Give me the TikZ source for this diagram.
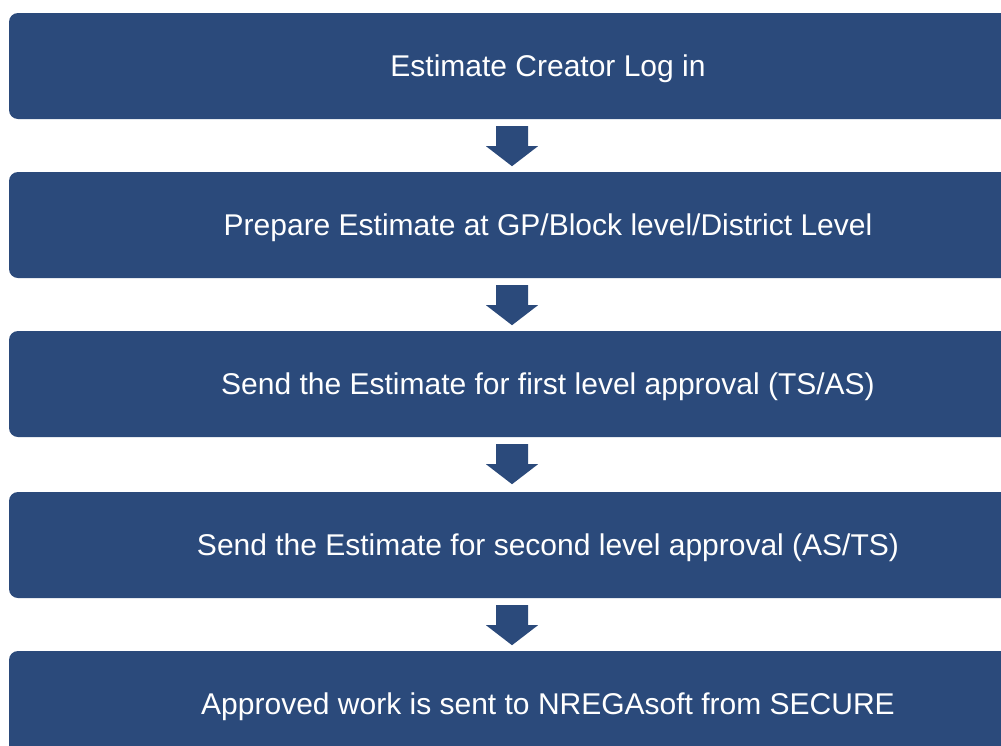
\documentclass[tikz,border=0pt]{standalone}
\usepackage{fontspec}
\setmainfont{Liberation Sans}
\definecolor{boxblue}{HTML}{2B4A7B}
\tikzset{
  stepbox/.style={fill=boxblue, rounded corners=9pt, minimum width=1078pt,
    minimum height=106pt, inner sep=0pt, text=white,
    text height=21.5pt, text depth=0pt,
    font=\fontsize{30pt}{34pt}\selectfont},
}
% block arrow hanging below a box, centred at x = 512
\newcommand\downarrowbelow[1]{%
  \fill[boxblue] (#1.south -| 512,0) ++(-16,7) -- ++(32,0) -- ++(0,20) -- ++(10,0)
    -- ++(-26,20) -- ++(-26,-20) -- ++(10,0) -- cycle;}
\begin{document}
\begin{tikzpicture}[x=1pt,y=-1pt]
  \useasboundingbox (0,0) rectangle (1001,745);
  \clip (0,0) rectangle (1001,745);
  \node[stepbox] (b1) at (548,66)  {Estimate Creator Log in};
  \node[stepbox] (b2) at (548,225) {Prepare Estimate at GP/Block level/District Level};
  \node[stepbox] (b3) at (548,384) {Send the Estimate for first level approval (TS/AS)};
  \node[stepbox] (b4) at (548,545) {Send the Estimate for second level approval (AS/TS)};
  \node[stepbox] (b5) at (548,704) {Approved work is sent to NREGAsoft from SECURE};
  \downarrowbelow{b1}
  \downarrowbelow{b2}
  \downarrowbelow{b3}
  \downarrowbelow{b4}
\end{tikzpicture}
\end{document}
